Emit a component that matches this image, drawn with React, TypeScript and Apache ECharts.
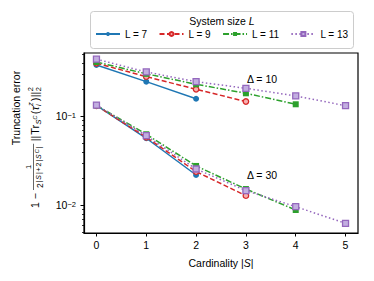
import React, { useEffect, useRef } from 'react';
import * as echarts from 'echarts';

const FF = '"Liberation Sans", Arial, sans-serif';

const cardinality = [0, 1, 2, 3, 4, 5];
const sizeNames = ['L = 7', 'L = 9', 'L = 11', 'L = 13'];
const colors = ['#1f77b4', '#d62728', '#2ca02c', '#9467bd'];

// Delta = 10
const d10_L7 = [0.379, 0.246, 0.158];
const d10_L9 = [0.396, 0.28, 0.202, 0.147];
const d10_L11 = [0.409, 0.301, 0.23, 0.182, 0.137];
const d10_L13 = [0.44, 0.316, 0.246, 0.207, 0.17, 0.132];
// Delta = 30
const d30_L7 = [0.133, 0.0569, 0.022];
const d30_L9 = [0.132, 0.0584, 0.024, 0.0129];
const d30_L11 = [0.133, 0.0631, 0.0278, 0.0153, 0.0089];
const d30_L13 = [0.134, 0.0608, 0.0257, 0.0147, 0.0097, 0.0063];

const xTicks = [0, 1, 2, 3, 4, 5];
const yMajor = [0.01, 0.1];
const yMinor = [0.005, 0.006, 0.007, 0.008, 0.009, 0.02, 0.03, 0.04, 0.05, 0.06, 0.07, 0.08, 0.09, 0.2, 0.3, 0.4, 0.5];
const yMin = 0.00491;
const yMax = 0.516;

function buildFormula() {
  const canvas = document.createElement('canvas');
  const ctx = canvas.getContext('2d')!;
  const w = (t: string, size: number, italic = false) => {
    ctx.font = `${italic ? 'italic ' : ''}${size}px ${FF}`;
    return ctx.measureText(t).width;
  };
  const children: any[] = [];
  let x = 0;
  const txt = (t: string, px: number, dy: number, size: number, italic = false, align = 'left') => {
    children.push({
      type: 'text',
      x: px,
      y: dy,
      style: { text: t, fontSize: size, fontFamily: FF, fontStyle: italic ? 'italic' : 'normal', fill: '#000', align, verticalAlign: 'middle' },
    });
  };
  const put = (t: string, size: number, dy: number, italic = false, gap = 0) => {
    txt(t, x, dy, size, italic);
    x += w(t, size, italic) + gap;
  };
  put('1', 10.5, 0, false, 3);
  put('−', 10.5, 0, false, 3);
  const den: [string, number, number, boolean][] = [
    ['2', 8.5, 4.8, false],
    ['|', 7, 3.6, false],
    ['S', 7, 3.6, true],
    ['|', 7, 3.6, false],
    ['+', 7, 3.6, false],
    ['2', 7, 3.6, false],
    ['|', 7, 3.6, false],
    ['S', 7, 3.6, true],
    ['C', 5.5, 1.6, true],
    ['|', 7, 3.6, false],
  ];
  const gapD = 0.9;
  let dw = 0;
  den.forEach(([t, s, , it]) => (dw += w(t, s, it) + gapD));
  const barStart = x;
  const barLen = dw + 4;
  children.push({ type: 'line', shape: { x1: barStart, y1: -1.5, x2: barStart + barLen, y2: -1.5 }, style: { stroke: '#000', lineWidth: 0.6 } });
  txt('1', barStart + barLen / 2, -6.8, 7.5, false, 'center');
  let dx = barStart + 2;
  den.forEach(([t, s, dy, it]) => {
    txt(t, dx, dy, s, it);
    dx += w(t, s, it) + gapD;
  });
  x = barStart + barLen + 2.5;
  put('||', 11, 0, false, 0.8);
  put('Tr', 11, 0, false, 0.3);
  put('S', 7.5, 3.2, true, 0);
  put('C', 5.5, 0.2, true, 1.2);
  put('(', 11, 0, false, 0.2);
  put('τ', 11, 0, true, 0.4);
  txt('z', x, -4.6, 7.5, true);
  txt('i', x, 3.6, 7.5, true);
  x += w('z', 7.5, true) + 0.8;
  put(')', 11, 0, false, 0.4);
  put('||', 11, 0, false, 0.4);
  txt('2', x, -4.8, 7.5);
  txt('2', x, 3.8, 7.5);
  return children;
}

function mkSeries(name: string, data: number[], color: string, dash: any, symbol: string, fill: string, bw: number, size: number) {
  return {
    type: 'line',
    name,
    xAxisIndex: 0,
    yAxisIndex: 0,
    data: data.map((v, i) => [cardinality[i], v]),
    symbol,
    symbolSize: size,
    showSymbol: true,
    lineStyle: { color, width: 1.5, type: dash, cap: 'butt' },
    itemStyle: { color: fill, borderColor: color, borderWidth: bw },
    z: 3,
  };
}

export default function App() {
  const ref = useRef<HTMLDivElement>(null);
  useEffect(() => {
    const chart = echarts.init(ref.current!, undefined, { renderer: 'svg' });
    const styles = [
      { dash: 'solid', symbol: 'circle', fill: colors[0], bw: 0, size: 6 },
      { dash: [5, 2.5], symbol: 'circle', fill: '#f7b0b0', bw: 1.3, size: 5.5 },
      { dash: [6, 2, 1.5, 2], symbol: 'rect', fill: colors[2], bw: 0, size: 6 },
      { dash: [1.5, 2.5], symbol: 'rect', fill: '#c2aee0', bw: 1.3, size: 6 },
    ];
    const d10 = [d10_L7, d10_L9, d10_L11, d10_L13];
    const d30 = [d30_L7, d30_L9, d30_L11, d30_L13];
    const series: any[] = [];
    sizeNames.forEach((n, i) => {
      const s = styles[i];
      series.push(mkSeries(n, d10[i], colors[i], s.dash, s.symbol, s.fill, s.bw, s.size));
    });
    sizeNames.forEach((n, i) => {
      const s = styles[i];
      series.push(mkSeries(n, d30[i], colors[i], s.dash, s.symbol, s.fill, s.bw, s.size));
    });
    const lg = (v: number) => Math.log10(v);
    chart.setOption({
      animation: false,
      backgroundColor: '#fff',
      grid: {
        left: 84, right: 16, top: 53, bottom: 48, show: true, borderColor: '#000', borderWidth: 1.2,
        backgroundColor: 'transparent', containLabel: false, outerBoundsMode: 'none',
      },
      xAxis: {
        type: 'value',
        min: -0.25,
        max: 5.25,
        axisLine: { show: true, lineStyle: { color: '#000', width: 1.2 } },
        axisTick: { show: true, customValues: xTicks, length: 3.5, lineStyle: { color: '#000', width: 1 } },
        axisLabel: { customValues: xTicks, fontSize: 10.5, fontFamily: FF, color: '#000', margin: 6 },
        splitLine: { show: false },
        name: '{a|Cardinality |}{b|S}{a||}',
        nameLocation: 'middle',
        nameGap: 24,
        nameTextStyle: {
          rich: {
            a: { fontSize: 10.5, fontFamily: FF, color: '#000' },
            b: { fontSize: 10.5, fontFamily: FF, color: '#000', fontStyle: 'italic' },
          },
        },
      },
      yAxis: [
        { type: 'log', min: yMin, max: yMax, show: false, position: 'left' },
        {
          type: 'value',
          position: 'left',
          min: lg(yMin),
          max: lg(yMax),
          axisLine: { show: true, lineStyle: { color: '#000', width: 1.2 } },
          axisTick: { show: true, customValues: yMajor.map(lg), length: 3.5, lineStyle: { color: '#000', width: 1 } },
          axisLabel: {
            customValues: yMajor.map(lg),
            margin: 8,
            formatter: (v: number) => `{b|10}{s|−${Math.round(-v)}}`,
            rich: {
              b: { fontSize: 10.5, fontFamily: FF, color: '#000', lineHeight: 10, padding: [3, 0, 0, 0], verticalAlign: 'bottom' },
              s: { fontSize: 7.5, fontFamily: FF, color: '#000', lineHeight: 8, verticalAlign: 'top' },
            },
          },
          splitLine: { show: false },
        },
        {
          type: 'value',
          position: 'left',
          min: lg(yMin),
          max: lg(yMax),
          axisLine: { show: false },
          axisTick: { show: true, customValues: yMinor.map(lg), length: 2, lineStyle: { color: '#000', width: 0.8 } },
          axisLabel: { show: false },
          splitLine: { show: false },
        },
      ],
      legend: {
        data: sizeNames,
        left: 95,
        top: 29,
        itemWidth: 24,
        itemHeight: 5,
        itemGap: 11,
        padding: 0,
        textStyle: { fontSize: 10, fontFamily: FF, color: '#000' },
      },
      graphic: [
        { type: 'rect', z: 0, shape: { x: 90.5, y: 11.5, width: 263, height: 37, r: 3 }, style: { fill: '#fff', stroke: '#cccccc', lineWidth: 1 } },
        {
          type: 'text',
          x: 222,
          y: 21,
          z: 5,
          style: {
            text: '{a|System size }{b|L}',
            align: 'center',
            verticalAlign: 'middle',
            rich: {
              a: { fontSize: 10.5, fontFamily: FF, fill: '#000' },
              b: { fontSize: 10.5, fontFamily: FF, fill: '#000', fontStyle: 'italic' },
            },
          },
        },
        { type: 'text', x: 247, y: 79, z: 5, style: { text: 'Δ = 10', fontSize: 10.5, fontFamily: FF, fill: '#000', align: 'left', verticalAlign: 'middle' } },
        { type: 'text', x: 247, y: 175, z: 5, style: { text: 'Δ = 30', fontSize: 10.5, fontFamily: FF, fill: '#000', align: 'left', verticalAlign: 'middle' } },
        { type: 'text', x: 15.5, y: 108, rotation: Math.PI / 2, z: 5, style: { text: 'Truncation error', fontSize: 10.5, fontFamily: FF, fill: '#000', align: 'center', verticalAlign: 'middle' } },
        { type: 'group', x: 35, y: 208, rotation: Math.PI / 2, z: 5, children: buildFormula() },
      ],
      series,
    });
    return () => chart.dispose();
  }, []);
  return <div ref={ref} style={{ position: 'fixed', left: 0, top: 0, width: 374, height: 281 }} />;
}
